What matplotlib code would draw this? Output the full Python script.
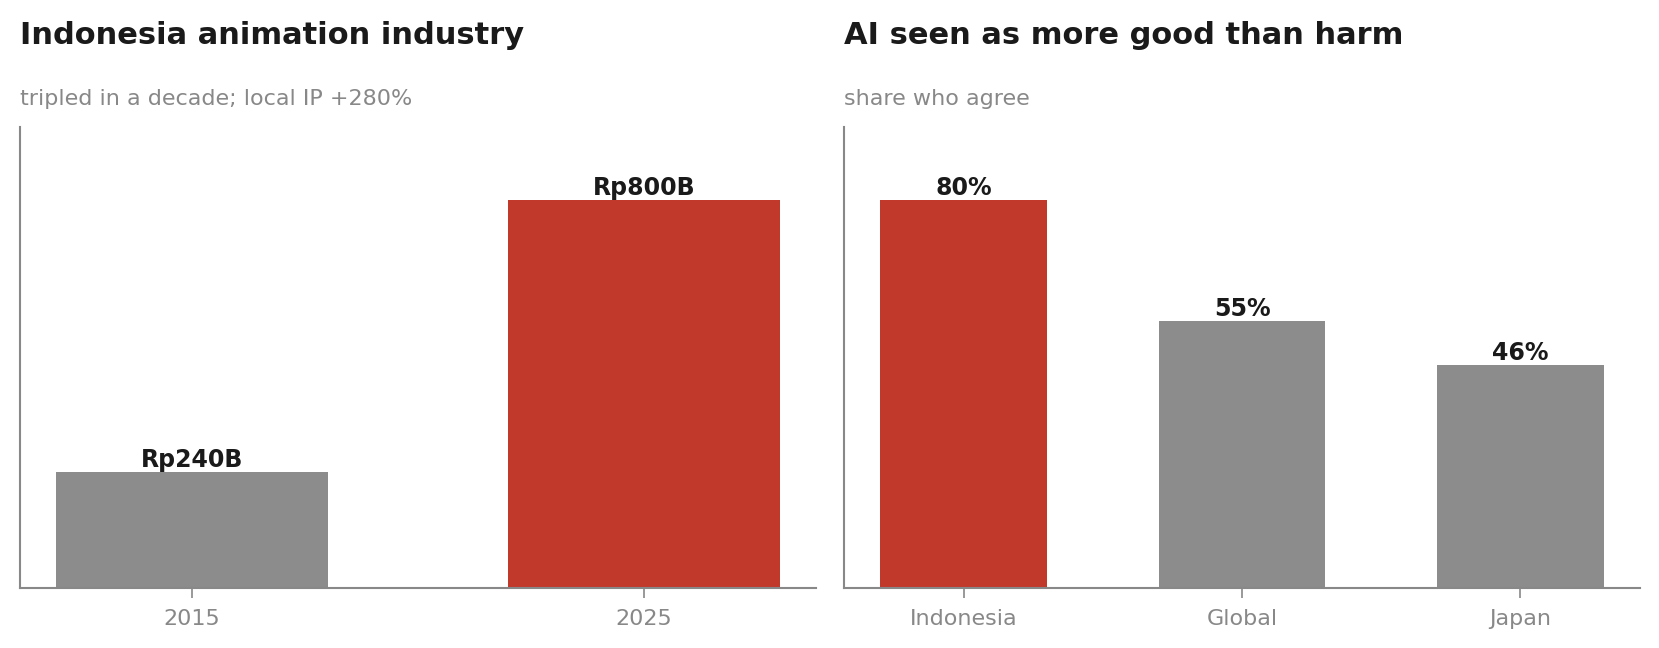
import matplotlib.pyplot as plt

# left panel data
years = ["2015", "2025"]
industry_value = [240, 800]
industry_labels = ["Rp240B", "Rp800B"]

# right panel data
countries = ["Indonesia", "Global", "Japan"]
ai_good = [80, 55, 46]
ai_labels = ["80%", "55%", "46%"]

RED = "#C0392B"
GRAY = "#8C8C8C"
SPINE = "#888888"
DARK = "#1a1a1a"

fig = plt.figure(figsize=(16.59, 6.48), dpi=100)
ax1 = fig.add_axes([20 / 1659, 60 / 648, 796 / 1659, 461 / 648])
ax2 = fig.add_axes([844 / 1659, 60 / 648, 796 / 1659, 461 / 648])


def bar_panel(ax, cats, vals, labels, colors):
    x = range(len(cats))
    bars = ax.bar(x, vals, width=0.6, color=colors)
    for b, lab in zip(bars, labels):
        ax.text(b.get_x() + b.get_width() / 2, b.get_height(), lab,
                ha="center", va="bottom", fontsize=17, fontweight="bold", color=DARK)
    ax.set_xticks(list(x))
    ax.set_xticklabels(cats)
    ax.set_ylim(0, max(vals) * 1.1875)
    ax.set_yticks([])
    for s in ["top", "right"]:
        ax.spines[s].set_visible(False)
    for s in ["left", "bottom"]:
        ax.spines[s].set_color(SPINE)
        ax.spines[s].set_linewidth(1.5)
    ax.tick_params(axis="x", colors=SPINE, labelcolor=SPINE, labelsize=16, length=7, width=1.2, pad=8)


bar_panel(ax1, years, industry_value, industry_labels, [GRAY, RED])
bar_panel(ax2, countries, ai_good, ai_labels, [RED, GRAY, GRAY])

fig.text(20 / 1659, 1 - 35 / 648, "Indonesia animation industry", fontsize=22,
         fontweight="bold", color=DARK, ha="left", va="center")
fig.text(20 / 1659, 1 - 99 / 648, "tripled in a decade; local IP +280%", fontsize=16,
         color=SPINE, ha="left", va="center")
fig.text(844 / 1659, 1 - 35 / 648, "AI seen as more good than harm", fontsize=22,
         fontweight="bold", color=DARK, ha="left", va="center")
fig.text(844 / 1659, 1 - 99 / 648, "share who agree", fontsize=16,
         color=SPINE, ha="left", va="center")

fig.savefig("out.png", dpi=100)
